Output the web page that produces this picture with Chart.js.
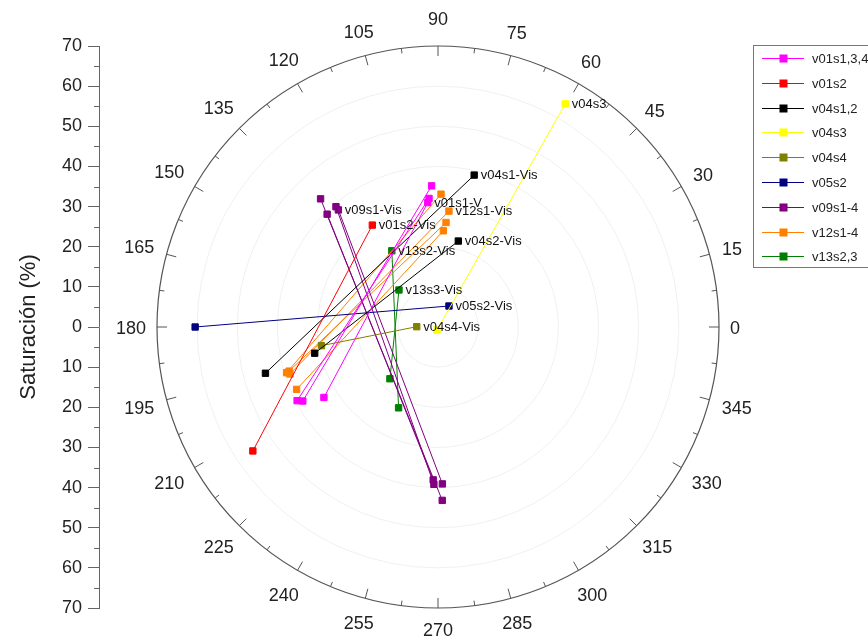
<!DOCTYPE html>
<html>
<head>
<meta charset="utf-8">
<script src="https://cdn.jsdelivr.net/npm/chart.js@4.4.1/dist/chart.umd.min.js"></script>
<style>
html,body{margin:0;padding:0;background:#fff;}
#wrap{width:868px;height:641px;position:relative;}
</style>
</head>
<body>
<div id="wrap"><canvas id="c" width="868" height="641"></canvas></div>
<script>
// ---------- data (hue angle in degrees, saturation in %) ----------
const seriesNames  = ['v01s1,3,4','v01s2','v04s1,2','v04s3','v04s4','v05s2','v09s1-4','v12s1-4','v13s2,3'];
const seriesColors = ['#ff00ff','#ff0000','#000000','#ffff00','#808000','#000080','#800080','#ff8000','#008000'];

const v01s134Angle = [92.6, 208.7, null, 94.0, 207.6, null, 94.7, 211.7];
const v01s134Sat   = [35.2, 38.4,  null, 32.1, 39.6,  null, 31.1, 33.4];
const v01s134Tag   = ['', '', '', '', '', '', 'v01s1-V', ''];

const v01s2Angle = [122.8, 213.8];
const v01s2Sat   = [30.2, 55.5];
const v01s2Tag   = ['v01s2-Vis', ''];

const v04s12Angle = [76.6, 195.0, null, 76.7, 192.0];
const v04s12Sat   = [38.9, 44.5,  null, 22.0, 31.4];
const v04s12Tag   = ['v04s1-Vis', '', '', 'v04s2-Vis', ''];

const v04s3Angle = [60.3, 252.0];
const v04s3Sat   = [64.0, 0.8];
const v04s3Tag   = ['v04s3', ''];

const v04s4Angle = [179.2, 189.1];
const v04s4Sat   = [5.3, 29.4];
const v04s4Tag   = ['v04s4-Vis', ''];

const v05s2Angle = [62.4, 180.0];
const v05s2Sat   = [5.9, 60.5];
const v05s2Tag   = ['v05s2-Vis', ''];

const v09Angle = [132.5, 271.4, null, 134.5, 268.2, null, 130.3, 268.5, null, 130.4, 271.6];
const v09Sat   = [43.3, 43.2,  null, 39.4, 38.1,  null, 39.3, 39.2,  null, 38.3, 39.1];
const v09Tag   = ['', '', '', '', '', '', '', '', '', 'v09s1-Vis', ''];

const v12Angle = [88.7, 196.8, null, 84.6, 197.6, null, 85.6, 196.5, null, 86.8, 203.8];
const v12Sat   = [33.1, 39.4,  null, 29.0, 38.7,  null, 26.1, 38.7,  null, 24.0, 38.5];
const v12Tag   = ['', '', '', 'v12s1-Vis', '', '', '', '', '', '', ''];

const v13Angle = [121.2, 244.0, null, 136.5, 227.1];
const v13Sat   = [22.2, 22.4,  null, 13.4, 17.6];
const v13Tag   = ['v13s2-Vis', '', '', 'v13s3-Vis', ''];

const seriesAngles = [v01s134Angle, v01s2Angle, v04s12Angle, v04s3Angle, v04s4Angle, v05s2Angle, v09Angle, v12Angle, v13Angle];
const seriesSats   = [v01s134Sat, v01s2Sat, v04s12Sat, v04s3Sat, v04s4Sat, v05s2Sat, v09Sat, v12Sat, v13Sat];
const seriesTags   = [v01s134Tag, v01s2Tag, v04s12Tag, v04s3Tag, v04s4Tag, v05s2Tag, v09Tag, v12Tag, v13Tag];

const angleTicks = [0,15,30,45,60,75,90,105,120,135,150,165,180,195,210,225,240,255,270,285,300,315,330,345];
const ringValues = [10,20,30,40,50,60];
const satMax = 70;
const satAxisTitle = 'Saturación (%)';

// ---------- build ----------
const FONT = 'Arial, "Liberation Sans", Helvetica, sans-serif';
const rad = d => d * Math.PI / 180;

const datasets = seriesNames.map((name, s) => ({
  label: name,
  data: seriesAngles[s].map((a, i) => a === null
    ? {x: null, y: null}
    : {x: seriesSats[s][i] * Math.cos(rad(a)), y: seriesSats[s][i] * Math.sin(rad(a))}),
  tags: seriesTags[s],
  showLine: true,
  spanGaps: false,
  borderColor: seriesColors[s],
  backgroundColor: seriesColors[s],
  borderWidth: 1,
  pointStyle: 'rect',
  pointRadius: 4.5,
  pointHoverRadius: 4.5,
  pointBorderWidth: 1,
  pointBorderColor: seriesColors[s],
  pointBackgroundColor: seriesColors[s]
}));

const polarGrid = {
  id: 'polarGrid',
  beforeDatasetsDraw(chart) {
    const ctx = chart.ctx, xs = chart.scales.x, ys = chart.scales.y;
    const cx = xs.getPixelForValue(0), cy = ys.getPixelForValue(0);
    const Rof = v => xs.getPixelForValue(v) - cx;
    ctx.save();
    ctx.strokeStyle = '#f0f0f0';
    ctx.lineWidth = 1;
    ringValues.forEach(v => { ctx.beginPath(); ctx.arc(cx, cy, Rof(v), 0, Math.PI * 2); ctx.stroke(); });
    const R = Rof(satMax);
    ctx.strokeStyle = '#555';
    ctx.lineWidth = 1.2;
    ctx.beginPath(); ctx.arc(cx, cy, R, 0, Math.PI * 2); ctx.stroke();
    ctx.lineWidth = 1;
    for (let k = 0; k < 48; k++) {
      const a = rad(k * 7.5);
      const len = k % 2 === 0 ? 10 : 5;
      ctx.beginPath();
      ctx.moveTo(cx + R * Math.cos(a), cy - R * Math.sin(a));
      ctx.lineTo(cx + (R - len) * Math.cos(a), cy - (R - len) * Math.sin(a));
      ctx.stroke();
    }
    ctx.fillStyle = '#222';
    ctx.font = '18px ' + FONT;
    ctx.textAlign = 'center';
    ctx.textBaseline = 'alphabetic';
    angleTicks.forEach(t => {
      const a = rad(t), txt = String(t);
      const w = ctx.measureText(txt).width, h = 13;
      const c = Math.cos(a), s = Math.sin(a);
      const g = 11 + 4 * Math.abs(s) + (s > 0.99 ? 6 : 0);
      const d = R + g + Math.abs(c) * w / 2 + Math.abs(s) * h / 2;
      ctx.fillText(txt, cx + d * c, cy - d * s + 6.5);
    });
    ctx.restore();
  }
};

const pointTags = {
  id: 'pointTags',
  afterDatasetsDraw(chart) {
    const ctx = chart.ctx;
    ctx.save();
    ctx.fillStyle = '#111';
    ctx.font = '13px ' + FONT;
    ctx.textAlign = 'left';
    ctx.textBaseline = 'middle';
    chart.data.datasets.forEach((ds, di) => {
      const meta = chart.getDatasetMeta(di);
      ds.tags.forEach((t, i) => {
        if (!t) return;
        const p = meta.data[i];
        ctx.fillText(t, p.x + 6.5, p.y + 0.5);
      });
    });
    ctx.restore();
  }
};

const minorTicks = {
  id: 'minorTicks',
  afterDraw(chart) {
    const ctx = chart.ctx, ys = chart.scales.y;
    ctx.save();
    ctx.strokeStyle = '#666';
    ctx.lineWidth = 1;
    for (let v = -satMax + 5; v < satMax; v += 10) {
      const py = Math.round(ys.getPixelForValue(v)) + 0.5;
      ctx.beginPath(); ctx.moveTo(ys.right - 5, py); ctx.lineTo(ys.right, py); ctx.stroke();
    }
    ctx.restore();
  }
};

const boxLegend = {
  id: 'boxLegend',
  afterDraw(chart) {
    const ctx = chart.ctx;
    ctx.save();
    ctx.strokeStyle = '#777';
    ctx.lineWidth = 1;
    ctx.strokeRect(753.5, 45.5, 130, 222);
    ctx.font = '13px ' + FONT;
    ctx.textAlign = 'left';
    ctx.textBaseline = 'middle';
    chart.data.datasets.forEach((ds, i) => {
      const y = Math.round(58 + 24.8 * i) + 0.5;
      ctx.strokeStyle = ds.borderColor;
      ctx.beginPath(); ctx.moveTo(762, y); ctx.lineTo(804, y); ctx.stroke();
      ctx.fillStyle = ds.backgroundColor;
      ctx.fillRect(779.5, y - 4, 8, 8);
      ctx.fillStyle = '#222';
      ctx.fillText(ds.label, 812, y + 0.5);
    });
    ctx.restore();
  }
};

new Chart(document.getElementById('c'), {
  type: 'scatter',
  data: { datasets },
  options: {
    responsive: false,
    animation: false,
    devicePixelRatio: 1,
    layout: { padding: { left: 0, right: 149, top: 46, bottom: 33 } },
    plugins: { legend: { display: false }, tooltip: { enabled: false } },
    events: [],
    scales: {
      x: { type: 'linear', min: -satMax, max: satMax, display: false },
      y: {
        type: 'linear', min: -satMax, max: satMax, position: 'left', weight: 1,
        afterFit(s) { s.width = 99; },
        ticks: { stepSize: 10, autoSkip: false, callback: v => Math.abs(v), font: { size: 18, family: FONT }, color: '#222', padding: 6 },
        grid: { drawOnChartArea: false, drawTicks: true, tickLength: 11, color: '#666', lineWidth: 1 },
        border: { display: true, color: '#666', width: 1 },
        title: { display: true, text: satAxisTitle, font: { size: 22, family: FONT }, color: '#222', padding: { top: 16, bottom: 0 } }
      },
      gap: {
        type: 'linear', position: 'left', weight: 0, min: 0, max: 1,
        afterFit(s) { s.width = 58; },
        ticks: { display: false }, grid: { display: false }, border: { display: false }
      }
    }
  },
  plugins: [polarGrid, pointTags, minorTicks, boxLegend]
});
</script>
</body>
</html>
